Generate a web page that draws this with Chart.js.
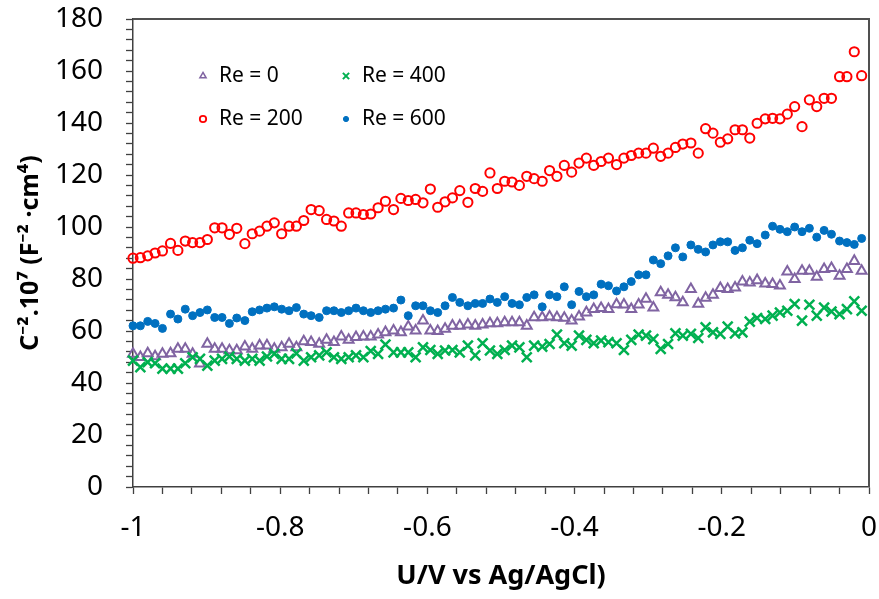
<!DOCTYPE html>
<html>
<head>
<meta charset="utf-8">
<title>Mott-Schottky</title>
<script src="https://cdn.jsdelivr.net/npm/chart.js@4.4.1/dist/chart.umd.min.js"></script>
<style>
  html, body { margin: 0; padding: 0; background: #fff; }
  canvas { display: block; }
</style>
</head>
<body>
<canvas id="chart" width="879" height="599"></canvas>
<script>
// ==================== DATOS ====================
// Potencial (V vs Ag/AgCl), común a las cuatro series
const voltage = [
  -1.000, -0.990, -0.980, -0.970, -0.960, -0.949, -0.939, -0.929, -0.919, -0.909,
  -0.899, -0.889, -0.879, -0.869, -0.859, -0.848, -0.838, -0.828, -0.818, -0.808,
  -0.798, -0.788, -0.778, -0.768, -0.758, -0.747, -0.737, -0.727, -0.717, -0.707,
  -0.697, -0.687, -0.677, -0.667, -0.657, -0.646, -0.636, -0.626, -0.616, -0.606,
  -0.596, -0.586, -0.576, -0.566, -0.556, -0.545, -0.535, -0.525, -0.515, -0.505,
  -0.495, -0.485, -0.475, -0.465, -0.455, -0.444, -0.434, -0.424, -0.414, -0.404,
  -0.394, -0.384, -0.374, -0.364, -0.354, -0.343, -0.333, -0.323, -0.313, -0.303,
  -0.293, -0.283, -0.273, -0.263, -0.253, -0.242, -0.232, -0.222, -0.212, -0.202,
  -0.192, -0.182, -0.172, -0.162, -0.152, -0.141, -0.131, -0.121, -0.111, -0.101,
  -0.091, -0.081, -0.071, -0.061, -0.051, -0.040, -0.030, -0.020, -0.010
];

// C^-2·10^7 (F^-2·cm^4)
const re0 = [
  51.2, 49.9, 51.4, 50.2, 51.2, 51.4, 53.1, 53.1, 51.2, 47.4,
  55.0, 53.1, 53.1, 52.5, 52.5, 54.0, 53.1, 54.4, 54.4, 53.1,
  53.7, 55.0, 53.7, 56.0, 55.7, 55.0, 56.6, 55.7, 57.8, 56.6,
  57.6, 57.8, 57.8, 58.6, 59.5, 60.1, 59.5, 61.7, 60.1, 64.0,
  60.1, 59.9, 60.8, 62.0, 62.0, 62.4, 62.0, 62.4, 62.9, 62.9,
  63.3, 63.3, 63.3, 62.0, 65.2, 65.2, 65.5, 65.2, 65.0, 64.0,
  65.5, 67.1, 68.4, 68.8, 68.4, 70.2, 70.1, 68.4, 70.1, 72.3,
  69.0, 74.8, 73.9, 72.9, 71.0, 76.1, 70.4, 72.7, 73.9, 76.5,
  76.1, 76.7, 79.0, 78.6, 79.5, 78.2, 78.0, 77.4, 82.8, 79.9,
  83.1, 83.1, 80.8, 83.8, 84.2, 81.2, 83.8, 86.9, 83.1
];
const re200 = [
  88.0, 88.2, 88.9, 90.0, 90.8, 93.7, 91.0, 94.6, 94.0, 94.0,
  95.2, 99.7, 99.7, 97.2, 99.5, 93.6, 97.4, 98.4, 100.3, 101.6,
  97.4, 100.3, 100.3, 102.5, 106.7, 106.3, 102.9, 102.3, 100.3, 105.4,
  105.4, 104.8, 105.0, 107.4, 109.9, 106.7, 111.0, 110.2, 110.6, 109.3,
  114.6, 107.6, 109.7, 111.2, 114.0, 109.5, 114.8, 113.7, 120.8, 114.8,
  117.6, 117.3, 116.0, 119.5, 118.6, 117.6, 121.7, 119.5, 123.7, 121.1,
  124.6, 126.5, 123.7, 125.2, 126.5, 124.0, 126.5, 127.5, 128.4, 128.4,
  130.3, 127.2, 128.4, 130.6, 131.9, 132.3, 128.4, 137.8, 136.1, 132.6,
  133.9, 137.4, 137.4, 134.2, 139.9, 141.6, 141.8, 141.6, 143.4, 146.3,
  138.6, 148.9, 146.3, 149.5, 149.5, 157.8, 157.8, 167.4, 158.2
];
const re400 = [
  48.6, 46.1, 48.0, 47.6, 45.5, 45.5, 45.5, 47.6, 49.9, 49.3,
  46.7, 48.6, 49.3, 50.2, 49.3, 48.6, 49.3, 48.6, 50.2, 51.2,
  49.3, 49.3, 51.4, 48.6, 49.9, 50.6, 51.8, 49.9, 49.3, 49.9,
  50.6, 49.9, 52.3, 51.2, 54.8, 51.8, 51.8, 51.8, 49.9, 53.7,
  52.7, 51.2, 52.5, 52.7, 51.8, 54.4, 50.6, 55.3, 52.5, 51.2,
  52.7, 54.4, 53.7, 49.9, 54.4, 54.0, 55.0, 58.6, 55.3, 54.4,
  58.2, 56.6, 55.3, 56.3, 55.7, 55.3, 52.7, 56.6, 58.6, 58.2,
  56.9, 53.1, 55.0, 59.1, 58.2, 58.9, 57.3, 61.4, 59.5, 58.9,
  61.7, 59.1, 59.5, 63.6, 65.0, 64.6, 65.9, 67.1, 67.8, 70.4,
  64.0, 70.1, 65.9, 69.0, 67.5, 66.5, 68.4, 71.4, 67.8
];
const re600 = [
  62.0, 62.0, 63.7, 62.9, 61.0, 66.5, 64.6, 68.4, 65.9, 67.1,
  68.1, 65.2, 65.2, 62.9, 65.0, 64.0, 67.4, 68.1, 68.8, 69.3,
  68.4, 67.8, 69.0, 66.5, 65.9, 65.2, 67.8, 67.8, 67.1, 67.8,
  68.8, 67.8, 67.1, 67.8, 68.4, 68.8, 71.9, 65.9, 69.7, 69.7,
  67.8, 67.1, 69.7, 72.9, 71.0, 69.7, 70.6, 70.6, 72.3, 71.0,
  73.2, 70.6, 70.1, 72.9, 73.9, 69.3, 73.9, 73.2, 77.0, 70.1,
  75.2, 73.2, 73.9, 78.0, 77.4, 75.4, 77.0, 79.0, 81.6, 81.6,
  87.3, 85.9, 88.9, 92.0, 88.5, 93.1, 91.4, 90.4, 93.1, 94.3,
  94.3, 91.0, 92.0, 94.9, 93.6, 96.9, 100.3, 99.1, 98.2, 100.0,
  98.2, 99.5, 96.1, 98.7, 97.2, 94.6, 94.0, 93.3, 95.6
];

const seriesLabels = ['Re = 0', 'Re = 200', 'Re = 400', 'Re = 600'];
const xTitle = 'U/V vs Ag/AgCl)';
const yTitle = 'C\u207B\u00B2.10\u2077 (F\u207B\u00B2 \u00B7cm\u2074)';

const FONT = "'Noto Sans', 'DejaVu Sans', sans-serif";

// Une el eje X con cada serie
const toPoints = ys => ys.map((y, i) => ({ x: voltage[i], y }));

// ==================== SERIES ====================
const datasets = [
  { label: seriesLabels[0], data: toPoints(re0),   pointStyle: 'triangle', pointRadius: 5.7,
    borderColor: '#8064A2', backgroundColor: 'rgba(0,0,0,0)', pointBorderWidth: 2, order: 4 },
  { label: seriesLabels[1], data: toPoints(re200), pointStyle: 'circle',   pointRadius: 4.6,
    borderColor: '#FF0000', backgroundColor: 'rgba(0,0,0,0)', pointBorderWidth: 2, order: 3 },
  { label: seriesLabels[2], data: toPoints(re400), pointStyle: 'crossRot', pointRadius: 7,
    borderColor: '#00B050', backgroundColor: '#00B050', pointBorderWidth: 2.5, order: 2 },
  { label: seriesLabels[3], data: toPoints(re600), pointStyle: 'circle',   pointRadius: 4,
    borderColor: '#0070C0', backgroundColor: '#0070C0', pointBorderWidth: 1, order: 1 }
];
datasets.forEach(d => { d.showLine = false; d.clip = false; });

// Leyenda a dos columnas dentro del área, como en Excel
const legendMarks = [
  { style: 'triangle', radius: 3.6, color: '#8064A2', fill: false, width: 1.5, col: 0, row: 0 },
  { style: 'circle',   radius: 3.2, color: '#FF0000', fill: false, width: 1.8, col: 0, row: 1 },
  { style: 'crossRot', radius: 4.4, color: '#00B050', fill: false, width: 2,   col: 1, row: 0 },
  { style: 'circle',   radius: 2.6, color: '#0070C0', fill: true,  width: 1,   col: 1, row: 1 }
];

const legendPlugin = {
  id: 'excelLegend',
  afterDraw(chart) {
    const { ctx } = chart;
    const xs = chart.scales.x, ys = chart.scales.y;
    const left = xs.left, right = xs.right, top = ys.top, bottom = ys.bottom;
    ctx.save();

    // Marco superior y derecho (rectángulos rellenos de 2 px)
    ctx.fillStyle = '#505050';
    ctx.fillRect(left, top - 1, right - left + 1, 2);
    ctx.fillRect(right - 1, top - 1, 2, bottom - top + 1);

    const colX = [left + 70, left + 213];
    const rowY = [top + 57, top + 100];
    legendMarks.forEach((m, i) => {
      const x = colX[m.col], y = rowY[m.row];
      ctx.strokeStyle = m.color;
      ctx.fillStyle = m.fill ? m.color : 'rgba(0,0,0,0)';
      ctx.lineWidth = m.width;
      Chart.helpers.drawPoint(ctx, { pointStyle: m.style, radius: m.radius, rotation: 0, borderWidth: m.width }, x, y);
      ctx.fillStyle = '#000';
      ctx.font = `21px ${FONT}`;
      ctx.textBaseline = 'middle';
      ctx.textAlign = 'left';
      ctx.fillText(seriesLabels[i], x + 16, y);
    });
    ctx.restore();
  }
};

// ==================== GRÁFICO ====================
const isMultiple = (v, step) => Math.abs(v / step - Math.round(v / step)) < 1e-6;

// Fija el tamaño de cada eje y anula el margen extra que añade Chart.js por las etiquetas
function fixX(s) {
  s.height = 103;
  s.paddingLeft = 0;
  s.paddingRight = 0;
}
function fixY(s) {
  s.width = 129;
  s.paddingTop = 0;
  s.paddingBottom = 0;
}

new Chart(document.getElementById('chart'), {
  type: 'scatter',
  data: { datasets },
  options: {
    responsive: false,
    animation: false,
    events: [],
    layout: { padding: { left: 4, right: 10, top: 19, bottom: 9 } },
    plugins: {
      legend: { display: false },
      tooltip: { enabled: false }
    },
    scales: {
      x: {
        type: 'linear',
        min: -1,
        max: 0,
        afterFit: fixX,
        ticks: {
          stepSize: 0.04,
          autoSkip: false,
          maxRotation: 0,
          padding: 17,
          color: '#000',
          font: { family: FONT, size: 28 },
          callback: v => isMultiple(v, 0.2) ? String(Math.round(v * 10) / 10) : ''
        },
        grid: { drawOnChartArea: false, tickLength: 7, tickColor: '#404040', tickWidth: 1.3 },
        border: { color: '#404040', width: 1.5 },
        title: {
          display: true,
          text: xTitle,
          color: '#000',
          font: { family: FONT, size: 27, weight: 'bold', lineHeight: 1 },
          padding: { top: 0, bottom: 0 }
        }
      },
      y: {
        min: 0,
        max: 180,
        afterFit: fixY,
        ticks: {
          stepSize: 4,
          autoSkip: false,
          padding: 23,
          color: '#000',
          font: { family: FONT, size: 28 },
          callback: v => isMultiple(v, 20) ? String(Math.round(v)) : ''
        },
        grid: { drawOnChartArea: false, tickLength: 7, tickColor: '#404040', tickWidth: 1.3 },
        border: { color: '#404040', width: 1.5 },
        title: {
          display: true,
          text: yTitle,
          color: '#000',
          font: { family: FONT, size: 25, weight: 'bold', lineHeight: 1.2 },
          padding: { top: 12, bottom: 0 }
        }
      }
    }
  },
  plugins: [legendPlugin]
});
</script>
</body>
</html>
